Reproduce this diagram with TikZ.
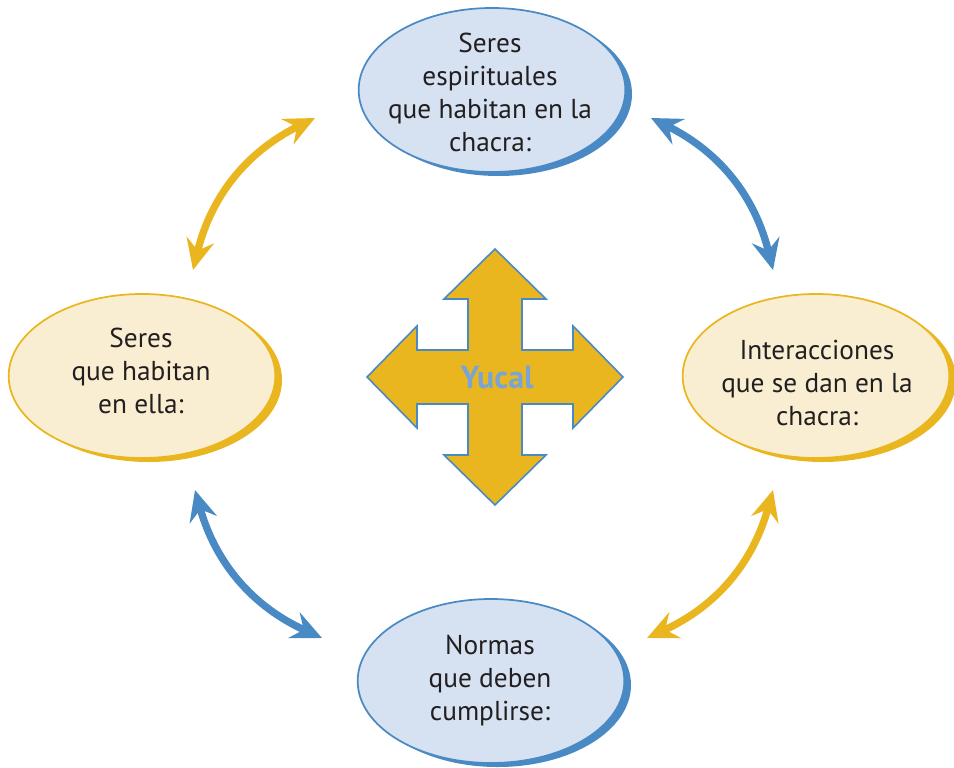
\documentclass[tikz,border=0pt]{standalone}
\usepackage{fontspec}
\setmainfont{PT Sans}
\usetikzlibrary{arrows.meta,shapes.geometric,shadows}
\definecolor{azul}{HTML}{4A8AC4}
\definecolor{azulclaro}{HTML}{D6E2F1}
\definecolor{amarillo}{HTML}{EAB620}
\definecolor{amarilloclaro}{HTML}{FAEED2}
\definecolor{azulyucal}{HTML}{7AA5D2}
\definecolor{tinta}{HTML}{231F20}
\tikzset{
	nube/.style={ellipse, line width=1.3pt, minimum width=200pt, minimum height=123pt, inner sep=0pt},
	nubeazul/.style={nube, draw=azul, fill=azulclaro, general shadow={fill=azul, shadow xshift=5pt, shadow yshift=-3pt}},
	nubeamarilla/.style={nube, draw=amarillo, fill=amarilloclaro, general shadow={fill=amarillo, shadow xshift=5pt, shadow yshift=-3pt}},
	texto/.style={align=center, text=tinta, font=\fontsize{20.5}{24.75}\selectfont},
	flecha/.style={line width=5.5pt, {Stealth[length=23pt,width=21pt,inset=8pt]}-{Stealth[length=23pt,width=21pt,inset=8pt]}}
}

\begin{document}
\begin{tikzpicture}[x=0.75pt,y=0.75pt]
		\useasboundingbox (0,0) rectangle (954,-768);

		% las cuatro elipses
		\node[nubeazul] (arriba) at (492,-90) {};
		\node[nubeamarilla] (izquierda) at (142,-376) {};
		\node[nubeamarilla] (derecha) at (816,-376) {};
		\node[nubeazul] (abajo) at (491,-681) {};

		\node[texto] (tarriba) at (490,-92) {Seres\\espirituales\\que habitan en la\\chacra:};
		\node[texto] (tizquierda) at (141,-371) {Seres\\que habitan\\en ella:};
		\node[texto] (tderecha) at (817,-383) {Interacciones\\que se dan en la\\chacra:};
		\node[texto] (tabajo) at (490,-681) {Normas\\que deben\\cumplirse:};

		% cruz central
		\coordinate (centro) at (495,-377);
		\draw[fill=amarillo, draw=azul, line width=1.2pt, shift={(centro)}]
			(0,128) -- (51,78) -- (27,78) -- (27,27) -- (78,27) -- (78,51) -- (128,0)
			-- (78,-51) -- (78,-27) -- (27,-27) -- (27,-78) -- (51,-78) -- (0,-128)
			-- (-51,-78) -- (-27,-78) -- (-27,-27) -- (-78,-27) -- (-78,-51) -- (-128,0)
			-- (-78,51) -- (-78,27) -- (-27,27) -- (-27,78) -- (-51,78) -- cycle;
		\node[text=azulyucal, font=\fontsize{24}{28}\selectfont\bfseries] (yucal) at (497,-378) {Yucal};

		% flechas curvas
		\coordinate (iz1) at (193,-270);
		\coordinate (iz2) at (315,-118);
		\coordinate (de1) at (651,-118);
		\coordinate (de2) at (773,-270);
		\coordinate (ab1) at (195,-490);
		\coordinate (ab2) at (322,-638);
		\coordinate (ab3) at (773,-490);
		\coordinate (ab4) at (647,-638);
		\draw[flecha, amarillo] (iz1) to[bend left=25] (iz2);
		\draw[flecha, azul] (de1) to[bend left=25] (de2);
		\draw[flecha, azul] (ab1) to[bend right=25] (ab2);
		\draw[flecha, amarillo] (ab3) to[bend left=25] (ab4);
\end{tikzpicture}
\end{document}
